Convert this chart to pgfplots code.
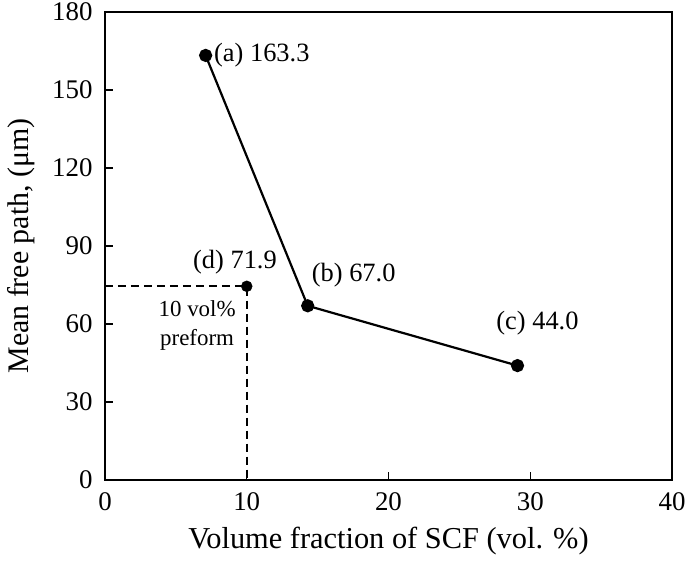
\documentclass[border=0pt]{standalone}
\usepackage{pgfplots}
\pgfplotsset{compat=1.18}
\usepackage{fontspec}
\setmainfont{Liberation Serif}
\begin{document}
\begin{tikzpicture}
\begin{axis}[
  scale only axis,
  width=567bp, height=468bp,
  xmin=0, xmax=40, ymin=0, ymax=180,
  xtick={0,10,20,30,40}, ytick={0,30,60,90,120,150,180},
  tick align=inside,
  xtick pos=bottom, ytick pos=left,
  major tick length=8bp,
  axis line style={line width=1.4bp},
  tick style={line width=1.4bp, black},
  /pgf/number format/assume math mode=true,
  ticklabel style={font=\fontsize{27}{30}\selectfont},
  xticklabel style={yshift=-9bp},
  yticklabel style={xshift=-9bp},
  xlabel={Volume fraction of SCF (vol. \%)},
  ylabel={Mean free path, (μm)},
  xlabel style={font=\fontsize{30.5}{34}\selectfont, yshift=-10bp},
  ylabel style={font=\fontsize{30}{34}\selectfont, yshift=10bp},
  clip=false,
]
\addplot[black, line width=2.2bp, mark=*, mark size=5.5bp] coordinates {
  (7.1,163.3) (14.3,67.0) (29.1,44.0)
};
\addplot[black, line width=2bp, dash pattern=on 8bp off 5bp] coordinates {
  (0,74.5) (10,74.5) (10,0)
};
\addplot[black, only marks, mark=*, mark size=5.5bp] coordinates {(10,74.5)};
\node[anchor=west, font=\fontsize{26.5}{30}\selectfont] at (axis cs:7.1,163.3) {\hspace{5bp}(a) 163.3};
\node[anchor=south west, font=\fontsize{26.5}{30}\selectfont, inner sep=0pt] at (axis cs:14.3,67.0) [xshift=4bp, yshift=18bp] {(b) 67.0};
\node[anchor=south west, font=\fontsize{26.5}{30}\selectfont, inner sep=0pt] at (axis cs:27.6,44.0) [yshift=30bp] {(c) 44.0};
\node[anchor=south, font=\fontsize{26.5}{30}\selectfont, inner sep=0pt] at (axis cs:9.17,74.5) [yshift=12bp] {(d) 71.9};
\node[anchor=north, font=\fontsize{23}{29}\selectfont, align=center, inner sep=0pt] at (axis cs:6.5,74.5) [yshift=-14bp] {10 vol\%\\preform};
\end{axis}
\pgfresetboundingbox
\path (current axis.south west) ++(-105bp,-88bp) rectangle ++(685bp,568bp);
\end{tikzpicture}
\end{document}
